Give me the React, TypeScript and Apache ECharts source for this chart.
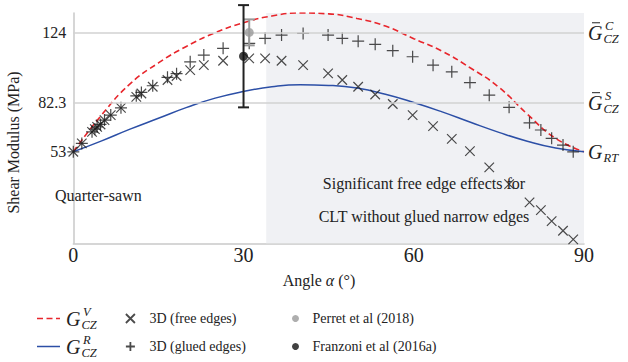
import React, { useEffect, useRef } from 'react';
import * as echarts from 'echarts';

// ---------- data ----------
const curveAngles = [0, 5, 10, 15, 20, 25, 30, 35, 40, 45, 50, 55, 60, 65, 70, 75, 80, 85, 90];
const gVoigt = [53, 75, 93.5, 106, 116, 124, 130, 134, 135.8, 135.3, 132.5, 128, 120.5, 113, 103, 91.5, 75.5, 61, 53];
const gReuss = [53, 59.5, 66.5, 73, 79.5, 85, 89, 91.8, 93, 92.6, 91, 87.3, 82.4, 76.8, 70.6, 64.6, 59.3, 55.2, 53];

const simAngles = [0, 1.5, 3.3, 3.8, 4.2, 4.8, 5.5, 6.6, 8.4, 11.1, 12.0, 14.0, 16.6, 18.2, 20.6, 23.0, 26.4, 31.0, 33.8, 36.7, 40.5, 44.9, 47.4, 50.2, 53.2, 56.3, 59.8, 63.4, 66.7, 69.9, 73.3, 76.8, 80.4, 82.4, 84.3, 86.3, 88.1];
const freeEdges = [53, 58.0, 64.9, 66.5, 67.9, 69.3, 71.9, 74.9, 79.2, 85.8, 87.8, 91.8, 95.8, 98.2, 101.7, 104.7, 107.3, 108.7, 108.7, 107.3, 104.7, 99.8, 95.8, 91.8, 87.2, 81.5, 74.9, 68.3, 60.7, 53.4, 43.7, 33.7, 22.8, 18.2, 11.6, 5.9, 0.7];
const gluedEdges = [53, 58.0, 64.9, 66.5, 67.9, 69.3, 71.9, 74.9, 79.2, 86.4, 88.4, 92.4, 97.4, 99.6, 106.7, 110.7, 114.7, 117.7, 120.7, 122.6, 123.6, 122.6, 120.7, 119.0, 117.1, 113.3, 109.7, 104.7, 100.7, 94.3, 86.8, 79.5, 70.3, 66.0, 61.0, 57.0, 53.0];

const perretPoint = [31, 124.2];
const perretRange = [116.5, 132];
const franzoniPoint = [30, 110];
const franzoniRange = [79.5, 140.5];

const yTickValues = [53, 82.3, 124];
const gridLineValues = [82.3, 124];
const shadedRange = [34, 90];

const xMin = 0, xMax = 90, xStep = 30;
const yMin = -1.6, yMax = 135.8;

// ---------- styles ----------
const SERIF = 'Liberation Serif, Tinos, Times New Roman, DejaVu Serif, serif';
const INK = '#1e1e1e';
const RED = '#e8262c';
const BLUE = '#2c4fa6';
const GREY = '#9a9a9a';

const zip = (xs: number[], ys: number[]) => xs.map((x, i) => [x, ys[i]]);

const errorBarRender = (color: string) => (params: any, api: any) => {
  const x = api.value(0);
  const lo = api.value(1);
  const hi = api.value(2);
  const top = api.coord([x, hi]);
  const bot = api.coord([x, lo]);
  const hw = 5.5;
  const st = { stroke: color, lineWidth: 2 };
  return {
    type: 'group',
    children: [
      { type: 'line', shape: { x1: top[0], y1: top[1], x2: bot[0], y2: bot[1] }, style: st },
      { type: 'line', shape: { x1: top[0] - hw, y1: top[1], x2: top[0] + hw, y2: top[1] }, style: st },
      { type: 'line', shape: { x1: bot[0] - hw, y1: bot[1], x2: bot[0] + hw, y2: bot[1] }, style: st },
    ],
  };
};

function txt(x: number, y: number, text: string, size: number, italic = false, align = 'left') {
  return {
    type: 'text',
    x,
    y,
    z: 100,
    silent: true,
    style: {
      text,
      fill: '#222',
      fontFamily: SERIF,
      fontSize: size,
      fontStyle: italic ? 'italic' : 'normal',
      align,
      verticalAlign: 'middle',
      textAlign: align,
      textVerticalAlign: 'middle',
    },
  };
}

function symbolLabel(x: number, yc: number, sup: string | null, sub: string, bar: boolean) {
  const els: any[] = [txt(x, yc, 'G', 20, true)];
  if (bar) {
    els.push({
      type: 'line',
      z: 100,
      silent: true,
      shape: { x1: x + 4, y1: yc - 10, x2: x + 12, y2: yc - 10 },
      style: { stroke: '#222', lineWidth: 1 },
    });
  }
  if (sup) els.push(txt(x + 17, yc - 6.5, sup, 12.5, true));
  els.push(txt(x + 15.5, yc + 6.5, sub, 12.5, true));
  return els;
}

export default function App() {
  const ref = useRef<HTMLDivElement>(null);

  useEffect(() => {
    if (!ref.current) return;
    const chart = echarts.init(ref.current, undefined, { renderer: 'svg' });

    const legendText = { fontFamily: SERIF, fontSize: 14, color: '#222', lineHeight: 16 };

    const option: any = {
      animation: false,
      backgroundColor: '#ffffff',
      textStyle: { fontFamily: SERIF },
      grid: { left: 73.3, right: 44, top: 13, bottom: 118.7, containLabel: false, outerBoundsMode: 'none' },
      xAxis: {
        type: 'value',
        min: xMin,
        max: xMax,
        interval: xStep,
        axisLine: { show: true, onZero: false, lineStyle: { color: '#c9c9c9', width: 1.5 } },
        axisTick: { show: false },
        splitLine: { show: false },
        axisLabel: { fontFamily: SERIF, fontSize: 20, color: '#222', margin: 2 },
      },
      yAxis: {
        type: 'value',
        min: yMin,
        max: yMax,
        axisLine: { show: true, onZero: false, lineStyle: { color: '#c9c9c9', width: 1.5 } },
        axisTick: { show: false },
        splitLine: { show: false },
        axisLabel: {
          customValues: yTickValues,
          fontFamily: SERIF,
          fontSize: 16,
          color: '#222',
          margin: 7,
          formatter: (v: number) => String(v),
        },
      },
      legend: [
        {
          orient: 'vertical',
          left: 125,
          top: 310.5,
          height: 60,
          padding: 0,
          itemWidth: 28,
          itemHeight: 9,
          itemGap: 12,
          selectedMode: false,
          textStyle: legendText,
          itemStyle: { borderWidth: 1.8 },
          data: ['3D (free edges)', '3D (glued edges)'],
        },
        {
          orient: 'vertical',
          left: 292,
          top: 310.5,
          height: 60,
          padding: 0,
          itemWidth: 24,
          itemHeight: 7,
          itemGap: 12,
          selectedMode: false,
          textStyle: legendText,
          data: ['Perret et al (2018)', 'Franzoni et al (2016a)'],
        },
      ],
      series: [
        {
          name: 'bg',
          type: 'line',
          data: [],
          z: 1,
          silent: true,
          markArea: {
            silent: true,
            itemStyle: { color: '#f0f1f4' },
            data: [[{ xAxis: shadedRange[0] }, { xAxis: shadedRange[1] }]],
          },
          markLine: {
            silent: true,
            symbol: 'none',
            label: { show: false },
            lineStyle: { color: '#d2d2d2', width: 1.5, type: 'solid' },
            data: gridLineValues.map((v) => ({ yAxis: v })),
          },
        },
        {
          name: 'G^V_CZ',
          type: 'line',
          smooth: true,
          symbol: 'none',
          z: 3,
          lineStyle: { color: RED, width: 1.6, type: [6, 3.5] },
          itemStyle: { color: RED },
          data: zip(curveAngles, gVoigt),
        },
        {
          name: 'G^R_CZ',
          type: 'line',
          smooth: true,
          symbol: 'none',
          z: 3,
          lineStyle: { color: BLUE, width: 1.5 },
          itemStyle: { color: BLUE },
          data: zip(curveAngles, gReuss),
        },
        {
          name: '3D (free edges)',
          type: 'scatter',
          symbol: 'path://M0,0L10,10M10,0L0,10',
          symbolSize: 9.5,
          z: 4,
          itemStyle: { color: 'rgba(0,0,0,0)', borderColor: INK, borderWidth: 1.2 },
          data: zip(simAngles, freeEdges),
        },
        {
          name: '3D (glued edges)',
          type: 'scatter',
          symbol: 'path://M5,0L5,10M0,5L10,5',
          symbolSize: 12,
          z: 4,
          itemStyle: { color: 'rgba(0,0,0,0)', borderColor: INK, borderWidth: 1.2 },
          data: zip(simAngles, gluedEdges),
        },
        {
          name: 'perretBar',
          type: 'custom',
          clip: false,
          z: 5,
          renderItem: errorBarRender(GREY),
          encode: { x: 0, y: [1, 2] },
          data: [[perretPoint[0], perretRange[0], perretRange[1]]],
        },
        {
          name: 'Perret et al (2018)',
          type: 'scatter',
          symbol: 'circle',
          symbolSize: 9,
          z: 6,
          itemStyle: { color: GREY },
          data: [perretPoint],
        },
        {
          name: 'franzoniBar',
          type: 'custom',
          clip: false,
          z: 5,
          renderItem: errorBarRender('#222222'),
          encode: { x: 0, y: [1, 2] },
          data: [[franzoniPoint[0], franzoniRange[0], franzoniRange[1]]],
        },
        {
          name: 'Franzoni et al (2016a)',
          type: 'scatter',
          symbol: 'circle',
          symbolSize: 9,
          z: 6,
          itemStyle: { color: '#111111' },
          data: [franzoniPoint],
        },
      ],
    };

    chart.setOption(option);

    const yPix = (v: number) => chart.convertToPixel({ yAxisIndex: 0 }, v) as number;
    const xPix = (v: number) => chart.convertToPixel({ xAxisIndex: 0 }, v) as number;
    const xr = xPix(xMax) + 4;

    const graphics: any[] = [
      // axis names
      {
        type: 'text',
        x: 13.5,
        y: 142.5,
        rotation: Math.PI / 2,
        z: 100,
        silent: true,
        style: {
          text: 'Shear Modulus (MPa)',
          fill: '#222',
          fontFamily: SERIF,
          fontSize: 16,
          align: 'center',
          verticalAlign: 'middle',
          textAlign: 'center',
          textVerticalAlign: 'middle',
        },
      },
      {
        type: 'text',
        x: 319,
        y: 280,
        z: 100,
        silent: true,
        style: {
          text: '{a|Angle }{b|α}{a| (°)}',
          fill: '#222',
          fontFamily: SERIF,
          fontSize: 16,
          align: 'center',
          verticalAlign: 'middle',
          textAlign: 'center',
          textVerticalAlign: 'middle',
          rich: {
            a: { fontFamily: SERIF, fontSize: 16, fill: '#222', color: '#222' },
            b: { fontFamily: SERIF, fontSize: 16, fontStyle: 'italic', fill: '#222', color: '#222' },
          },
        },
      },
      // annotations
      txt(55, 195, 'Quarter-sawn', 16),
      txt(424, 183.5, 'Significant free edge effects for', 16, false, 'center'),
      txt(424, 216.5, 'CLT without glued narrow edges', 16, false, 'center'),
      // right labels
      ...symbolLabel(xr, yPix(124), 'C', 'CZ', true),
      ...symbolLabel(xr, yPix(82.3), 'S', 'CZ', true),
      ...symbolLabel(xr, yPix(53), null, 'RT', false),
      // legend: curve samples and their symbols
      {
        type: 'line',
        z: 100,
        silent: true,
        shape: { x1: 37, y1: 318.5, x2: 60, y2: 318.5 },
        style: { stroke: RED, lineWidth: 1.6, lineDash: [6, 3.5] },
      },
      {
        type: 'line',
        z: 100,
        silent: true,
        shape: { x1: 37, y1: 346.5, x2: 60, y2: 346.5 },
        style: { stroke: BLUE, lineWidth: 1.5 },
      },
      ...symbolLabel(66, 318.5, 'V', 'CZ', false),
      ...symbolLabel(66, 346.5, 'R', 'CZ', false),
    ];

    chart.setOption({ graphic: graphics });

    return () => chart.dispose();
  }, []);

  return (
    <div
      ref={ref}
      style={{ position: 'absolute', left: 0, top: 0, width: 628, height: 362 }}
    />
  );
}
